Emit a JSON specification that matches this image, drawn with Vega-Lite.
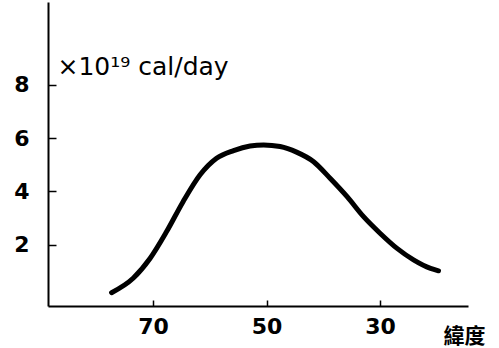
{
  "$schema": "https://vega.github.io/schema/vega-lite/v6.json",
  "autosize": "none",
  "width": 420,
  "height": 304,
  "padding": {"left": 48, "top": 2, "right": 31, "bottom": 42},
  "background": "white",
  "config": {"view": {"stroke": null}, "font": "DejaVu Sans"},
  "data": {"values": [
    {"lat": 77.3, "v": 0.2},
    {"lat": 73.5, "v": 0.74},
    {"lat": 70.5, "v": 1.49},
    {"lat": 67.6, "v": 2.49},
    {"lat": 64.7, "v": 3.61},
    {"lat": 61.7, "v": 4.62},
    {"lat": 58.8, "v": 5.24},
    {"lat": 55.8, "v": 5.53},
    {"lat": 52.9, "v": 5.7},
    {"lat": 50.5, "v": 5.74},
    {"lat": 47.6, "v": 5.68},
    {"lat": 44.7, "v": 5.47},
    {"lat": 41.7, "v": 5.11},
    {"lat": 38.8, "v": 4.49},
    {"lat": 35.8, "v": 3.8},
    {"lat": 32.9, "v": 3.05},
    {"lat": 30.0, "v": 2.43},
    {"lat": 27.0, "v": 1.86},
    {"lat": 24.1, "v": 1.43},
    {"lat": 21.1, "v": 1.11},
    {"lat": 19.7, "v": 1.02}
  ]},
  "mark": {"type": "line", "color": "black", "strokeWidth": 5, "interpolate": "monotone", "strokeCap": "round"},
  "encoding": {
    "x": {
      "field": "lat", "type": "quantitative",
      "scale": {"domain": [14.5, 88.5], "reverse": true, "nice": false, "zero": false},
      "axis": {
        "values": [70, 50, 30],
        "grid": true, "gridColor": "black", "gridWidth": 1.5, "gridDash": [6, 2000], "gridDashOffset": 1708, "gridOpacity": 1,
        "ticks": false,
        "domainColor": "black", "domainWidth": 2,
        "labelFontSize": 22, "labelFontWeight": "bold", "labelColor": "black", "labelPadding": 10,
        "title": "緯度", "titleFont": "Noto Sans CJK TC", "titleFontSize": 21, "titleFontWeight": "bold",
        "titleColor": "black", "titleAngle": 0, "titleAlign": "left", "titleBaseline": "alphabetic",
        "titleX": 395, "titleY": 36
      }
    },
    "y": {
      "field": "v", "type": "quantitative",
      "scale": {"domain": [-0.3, 11.1], "nice": false, "zero": false},
      "axis": {
        "values": [2, 4, 6, 8],
        "grid": true, "gridColor": "black", "gridWidth": 1.5, "gridDash": [8, 2000], "gridDashOffset": 1596, "gridOpacity": 1,
        "ticks": false,
        "domainColor": "black", "domainWidth": 2,
        "labelFontSize": 22, "labelFontWeight": "bold", "labelColor": "black", "labelPadding": 19,
        "title": "×10¹⁹ cal/day", "titleFontSize": 25, "titleFontWeight": "normal",
        "titleColor": "black", "titleAngle": 0, "titleAlign": "left", "titleBaseline": "alphabetic",
        "titleX": 9, "titleY": 72
      }
    }
  }
}
